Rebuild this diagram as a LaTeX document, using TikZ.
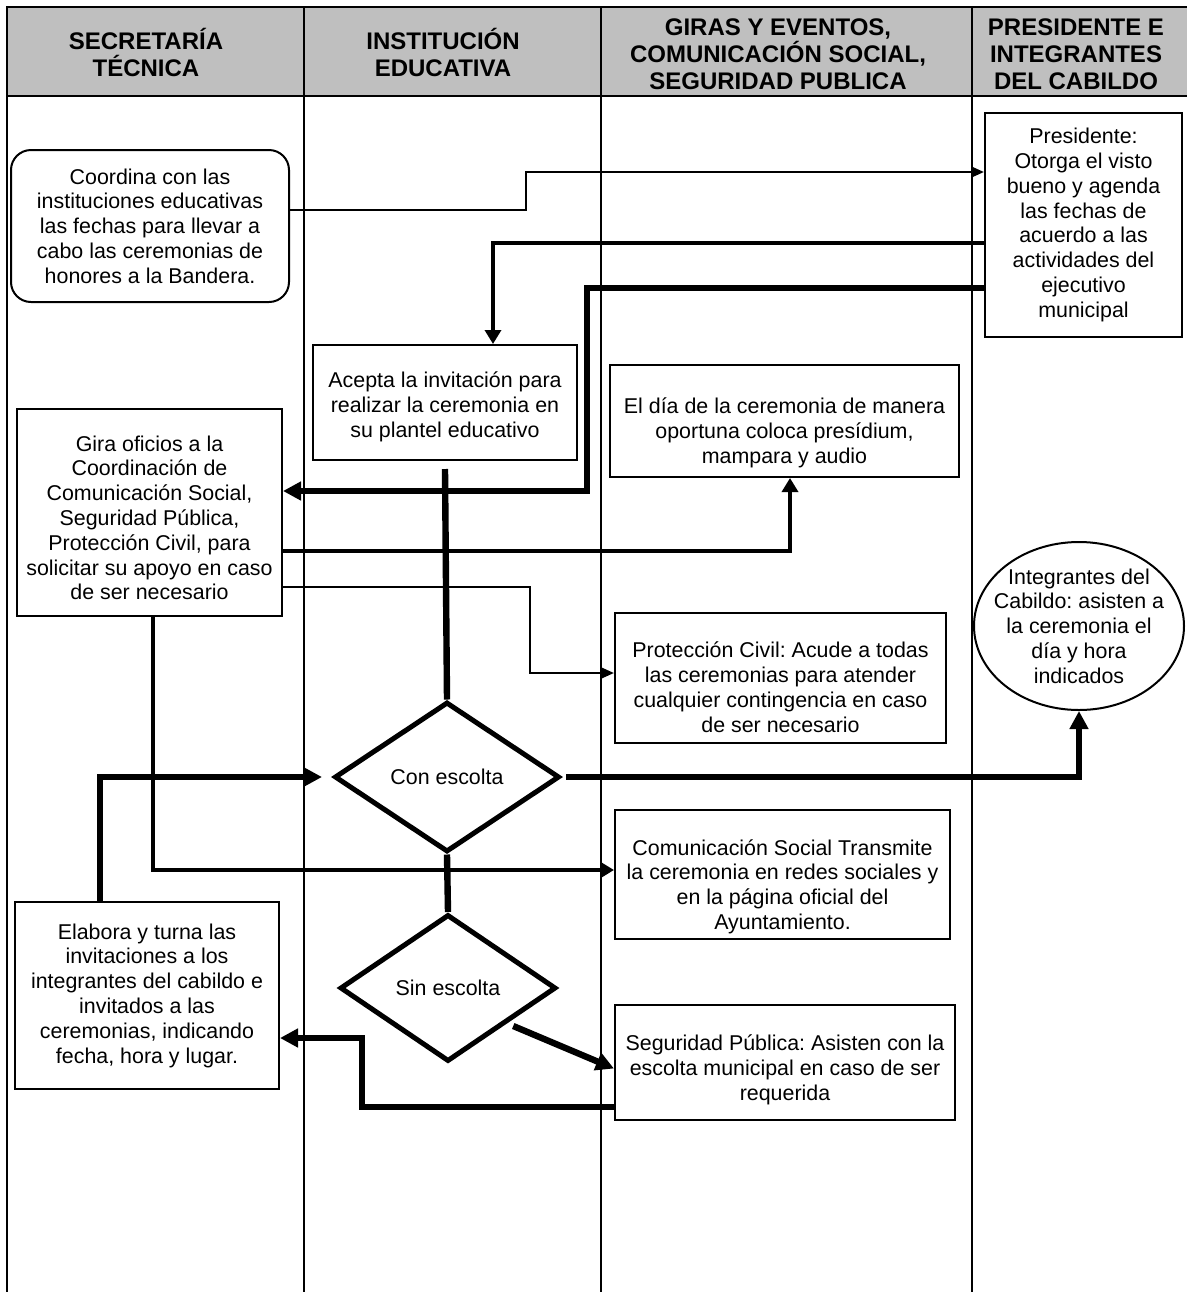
\documentclass[tikz,border=0pt]{standalone}
\usepackage{fontspec}
\setmainfont{Liberation Sans}
\frenchspacing
\usetikzlibrary{shapes.geometric,arrows.meta}

\newcommand\dn[1]{\rule{0pt}{#1}}
\tikzset{
  box/.style={draw,line width=1pt,align=center,inner sep=0pt},
  rbox/.style={box,rounded corners=10pt},
  dec/.style={draw,diamond,line width=2.5pt,inner sep=0pt,minimum width=#1},
  ln/.style={line width=1.2pt,-{Triangle[length=6pt,width=5pt]}},
  med/.style={line width=1.7pt,-{Triangle[length=7pt,width=8pt]}},
  thk/.style={line width=3.2pt,-{Triangle[length=9pt,width=9pt]}},
  hdr/.style={align=center,font=\bfseries\fontsize{12}{13.5}\selectfont}
}

\begin{document}
\begin{tikzpicture}[x=0.5pt,y=-0.5pt,font=\fontsize{10.7}{12.4}\selectfont]
\clip (0,0) rectangle (1187,1292);
\fill[black!25] (7,7) rectangle (1210,96);
\draw[line width=1.3pt] (1210,7) -- (7,7) -- (7,1300);
\draw[line width=1.3pt] (7,96) -- (1210,96);
\foreach \x in {304,601,972} \draw[line width=1pt] (\x,7) -- (\x,1300);

\node[hdr] (h1) at (146,52) {SECRETARÍA\\TÉCNICA};
\node[hdr] (h2) at (443,52) {INSTITUCIÓN\\EDUCATIVA};
\node[hdr] (h3) at (778,54) {GIRAS Y EVENTOS,\\COMUNICACIÓN SOCIAL,\\SEGURIDAD PUBLICA};
\node[hdr] (h4) at (1076,54) {PRESIDENTE E\\INTEGRANTES\\DEL CABILDO};

\node[rbox,minimum width=139pt,minimum height=76pt] (coord) at (150,226)
  {Coordina con las\\instituciones educativas\\las fechas para llevar a\\cabo las ceremonias de\\honores a la Bandera.};
\node[box,minimum width=98.5pt,minimum height=112pt] (pres) at (1083.5,225)
  {Presidente:\\Otorga el visto\\bueno y agenda\\las fechas de\\acuerdo a las\\actividades del\\ejecutivo\\municipal};
\node[box,minimum width=132pt,minimum height=57.5pt] (acepta) at (445,402.5)
  {\dn{12pt}Acepta la invitación para\\realizar la ceremonia en\\su plantel educativo};
\node[box,minimum width=174.5pt,minimum height=56pt] (dia) at (784.5,421)
  {\dn{20pt}El día de la ceremonia de manera\\oportuna coloca presídium,\\mampara y audio};
\node[box,minimum width=132.5pt,minimum height=103.5pt] (gira) at (149.5,512.5)
  {\dn{13pt}Gira oficios a la\\Coordinación de\\Comunicación Social,\\Seguridad Pública,\\Protección Civil, para\\solicitar su apoyo en caso\\de ser necesario};
\node[draw,ellipse,line width=1pt,minimum width=105pt,minimum height=84pt,
  label={[align=center]center:Integrantes del\\Cabildo: asisten a\\la ceremonia el\\día y hora\\indicados}] (integ) at (1079,626) {};
\node[box,minimum width=165.5pt,minimum height=65pt] (prot) at (780.5,678)
  {\dn{17pt}Protección Civil: Acude a todas\\las ceremonias para atender\\cualquier contingencia en caso\\de ser necesario};
\node[dec=112.5pt,minimum height=75pt] (con) at (447,777) {Con escolta};
\node[box,minimum width=167.5pt,minimum height=64.5pt] (comunic) at (782.5,874.5)
  {\dn{20pt}Comunicación Social Transmite\\la ceremonia en redes sociales y\\en la página oficial del\\Ayuntamiento.};
\node[dec=108pt,minimum height=73.5pt] (sin) at (448,988) {Sin escolta};
\node[box,minimum width=132pt,minimum height=93.5pt] (elabora) at (147,995.5)
  {Elabora y turna las\\invitaciones a los\\integrantes del cabildo e\\invitados a las\\ceremonias, indicando\\fecha, hora y lugar.};
\node[box,minimum width=170pt,minimum height=57.5pt] (seg) at (785,1062.5)
  {\dn{15pt}Seguridad Pública: Asisten con la\\escolta municipal en caso de ser\\requerida};

\draw[ln] ([yshift=8pt]coord.east) -| (526,172) -- (pres.west |- 0,172);
\draw[med] (pres.west |- 0,243) -| ([xshift=24pt]acepta.north);
\draw[thk] (pres.west |- 0,288) -| (587,491) -- (gira.east |- 0,491);
\draw[thk,-] ([yshift=-4pt]acepta.south) -- (con.north);
\draw[med] (gira.east |- 0,551) -| ([xshift=2.75pt]dia.south);
\draw[ln] (gira.east |- 0,587) -| (530,673) -- (prot.west |- 0,673);
\draw[med] ([xshift=1.75pt]gira.south) |- (comunic.west |- 0,870);
\draw[thk] ([xshift=-23.5pt]elabora.north) |- ([xshift=-5pt]con.west);
\draw[thk] ([xshift=2pt]con.east) -| (integ.south);
\draw[thk,-] (con.south) -- (sin.north);
\draw[thk] ([xshift=5pt]sin.south east) -- ([yshift=-3pt]seg.west);
\draw[thk] (seg.west |- 0,1107) -| (362,1038) -- (elabora.east |- 0,1038);
\end{tikzpicture}
\end{document}
